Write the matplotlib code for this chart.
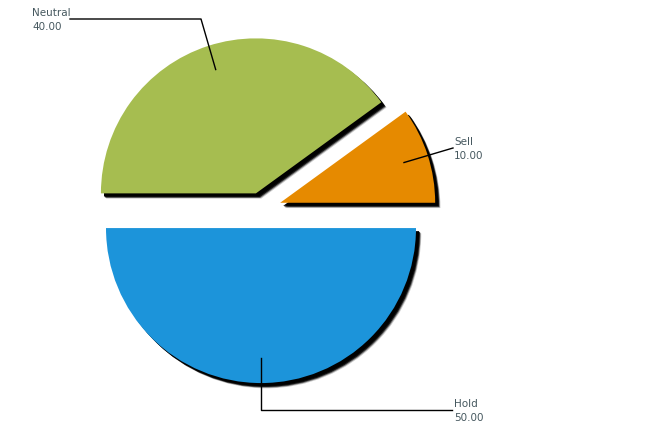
import math
import matplotlib
matplotlib.use("Agg")
import matplotlib.pyplot as plt
import matplotlib.patheffects as pe

# Data
labels = ["Neutral", "Sell", "Hold"]
values = [40.0, 10.0, 50.0]
colors = ["#a6bd50", "#e68a00", "#1c94da"]
explode = [0.106, 0.13, 0.123]

# pixel layout helpers (figure is 649x428 px, pie radius 155 px)
CX, CY, R = 261, 209, 155
W, H = 649, 428


def px(x, y):
    return ((x - CX) / R, (CY - y) / R)


fig = plt.figure(figsize=(6.49, 4.28), dpi=100)
ax = fig.add_axes([0, 0, 1, 1])

shadow = [
    pe.SimplePatchShadow(offset=(3.8, -3.8), shadow_rgbFace="k", alpha=0.2),
    pe.SimplePatchShadow(offset=(3.3, -3.3), shadow_rgbFace="k", alpha=0.45),
    pe.SimplePatchShadow(offset=(2.8, -2.8), shadow_rgbFace="k", alpha=0.8),
    pe.SimplePatchShadow(offset=(2.2, -2.2), shadow_rgbFace="k", alpha=1.0),
    pe.Normal(),
]

wedges, _ = ax.pie(values, colors=colors, explode=explode, radius=1,
                   startangle=180, counterclock=False,
                   wedgeprops=dict(linewidth=0))
for w in wedges:
    w.set_path_effects(shadow)

ax.set_xlim(px(0, 0)[0], px(W, 0)[0])
ax.set_ylim(px(0, H)[1], px(0, 0)[1])
ax.set_aspect("auto")
ax.axis("off")


def anchor(w, f=0.84):
    a = math.radians((w.theta1 + w.theta2) / 2)
    cx, cy = w.center
    return cx + f * w.r * math.cos(a), cy + f * w.r * math.sin(a)


txt = dict(fontsize=7.5, color="#46585f", linespacing=1.45, va="top", ha="left")

# Neutral: elbow up-left, text on the left
ax0, ay0 = anchor(wedges[0])
ex, ey = px(201, 19)
tx, _ = px(70, 19)
ax.plot([ax0, ex, tx], [ay0, ey, ey], color="k", lw=1)
ax.text(*px(32, 8), f"{labels[0]}\n{values[0]:.2f}", **txt)

# Sell: straight line to the right
ax1, ay1 = anchor(wedges[1])
ex, ey = px(453, 148)
ax.plot([ax1, ex], [ay1, ey], color="k", lw=1)
ax.text(*px(454, 137), f"{labels[1]}\n{values[1]:.2f}", **txt)

# Hold: down then right
ax2, ay2 = anchor(wedges[2])
_, ey = px(0, 410)
ex, _ = px(452, 0)
ax.plot([ax2, ax2, ex], [ay2, ey, ey], color="k", lw=1)
ax.text(*px(454, 399), f"{labels[2]}\n{values[2]:.2f}", **txt)

fig.savefig("out.png", dpi=100)
